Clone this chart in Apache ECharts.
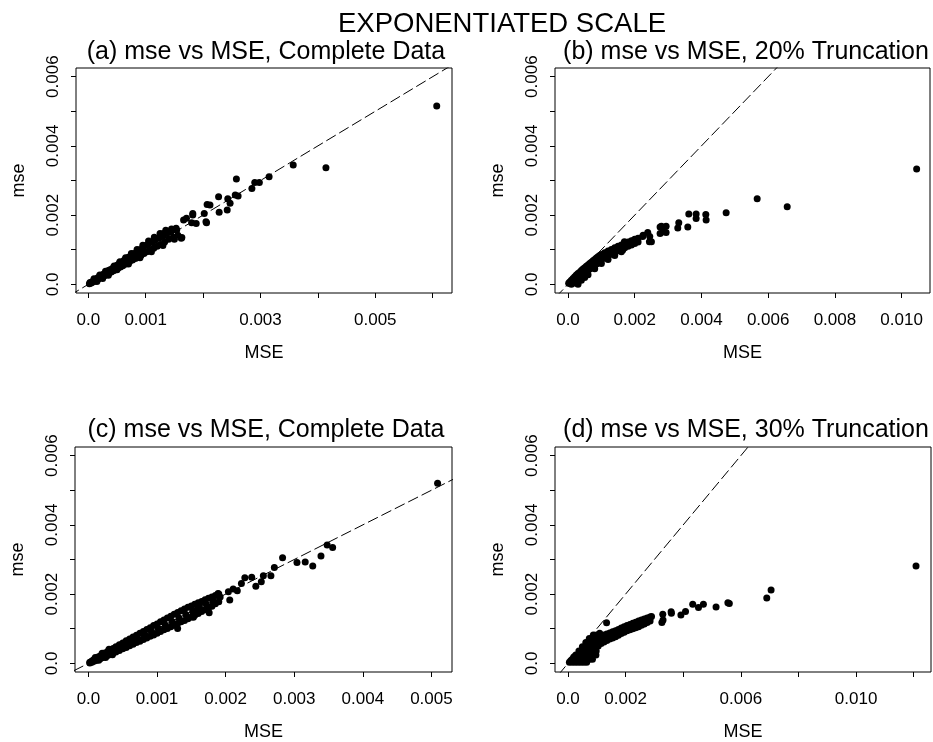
<!DOCTYPE html>
<html>
<head>
<meta charset="utf-8">
<script src="https://cdn.jsdelivr.net/npm/echarts@6/dist/echarts.min.js"></script>
<style>
  html, body { margin: 0; padding: 0; background: #fff; }
  #chart { width: 933px; height: 742px; }
</style>
</head>
<body>
<div id="chart"></div>
<script>
// (a) complete data
const ptsA = [
  [0.02e-3,0.02e-3],[0.03e-3,0.05e-3],[0.05e-3,0.04e-3],[0.06e-3,0.07e-3],[0.08e-3,0.07e-3],[0.09e-3,0.10e-3],
  [0.11e-3,0.10e-3],[0.12e-3,0.14e-3],[0.14e-3,0.13e-3],[0.16e-3,0.18e-3],[0.17e-3,0.15e-3],[0.19e-3,0.21e-3],
  [0.21e-3,0.19e-3],[0.23e-3,0.25e-3],[0.24e-3,0.21e-3],[0.26e-3,0.29e-3],[0.28e-3,0.25e-3],[0.30e-3,0.33e-3],
  [0.32e-3,0.28e-3],[0.34e-3,0.37e-3],[0.36e-3,0.32e-3],[0.38e-3,0.42e-3],[0.40e-3,0.36e-3],[0.42e-3,0.46e-3],
  [0.44e-3,0.39e-3],[0.46e-3,0.50e-3],[0.48e-3,0.43e-3],[0.50e-3,0.55e-3],[0.52e-3,0.47e-3],[0.54e-3,0.60e-3],
  [0.56e-3,0.50e-3],[0.58e-3,0.64e-3],[0.60e-3,0.54e-3],[0.62e-3,0.69e-3],[0.64e-3,0.58e-3],[0.66e-3,0.73e-3],
  [0.68e-3,0.62e-3],[0.70e-3,0.78e-3],[0.72e-3,0.66e-3],[0.75e-3,0.83e-3],[0.77e-3,0.70e-3],[0.80e-3,0.89e-3],
  [0.82e-3,0.75e-3],[0.85e-3,0.94e-3],[0.87e-3,0.79e-3],[0.90e-3,1.00e-3],[0.92e-3,0.84e-3],[0.95e-3,1.06e-3],
  [0.97e-3,0.89e-3],[1.00e-3,1.12e-3],[1.02e-3,0.94e-3],[1.05e-3,1.17e-3],[1.08e-3,0.99e-3],[1.11e-3,1.22e-3],
  [1.14e-3,1.04e-3],[1.17e-3,1.28e-3],[1.20e-3,1.10e-3],[1.23e-3,1.34e-3],[1.26e-3,1.15e-3],[1.30e-3,1.40e-3],
  [1.33e-3,1.22e-3],[1.37e-3,1.47e-3],[1.40e-3,1.30e-3],[1.44e-3,1.52e-3],[1.48e-3,1.36e-3],[1.52e-3,1.58e-3],
  [1.56e-3,1.42e-3],
  [0.35e-3,0.40e-3],[0.45e-3,0.53e-3],[0.55e-3,0.65e-3],[0.65e-3,0.77e-3],[0.75e-3,0.89e-3],[0.85e-3,1.01e-3],
  [0.95e-3,1.13e-3],[1.05e-3,1.25e-3],[1.15e-3,1.36e-3],[1.25e-3,1.47e-3],[1.35e-3,1.56e-3],[1.45e-3,1.60e-3],
  [0.50e-3,0.42e-3],[0.70e-3,0.59e-3],[0.90e-3,0.77e-3],[1.10e-3,0.94e-3],[1.30e-3,1.12e-3],[1.50e-3,1.30e-3],
  [0.10e-3,0.16e-3],[0.20e-3,0.27e-3],[0.30e-3,0.38e-3],[0.15e-3,0.08e-3],[0.25e-3,0.17e-3],[0.35e-3,0.26e-3],
  [1.31e-3,1.47e-3],[1.41e-3,1.52e-3],[1.53e-3,1.62e-3],[1.54e-3,1.57e-3],[1.62e-3,1.33e-3],[1.63e-3,1.35e-3],
  [1.66e-3,1.86e-3],[1.71e-3,1.91e-3],[1.80e-3,1.78e-3],[1.82e-3,2.00e-3],[1.82e-3,2.05e-3],[1.88e-3,1.76e-3],
  [2.02e-3,2.05e-3],[2.05e-3,1.81e-3],[2.06e-3,1.78e-3],[2.07e-3,2.31e-3],[2.12e-3,2.29e-3],[2.27e-3,2.53e-3],
  [2.28e-3,2.08e-3],[2.42e-3,2.15e-3],[2.43e-3,2.47e-3],[2.47e-3,2.34e-3],[2.56e-3,2.58e-3],[2.58e-3,3.04e-3],
  [2.61e-3,2.55e-3],[2.85e-3,2.77e-3],[2.90e-3,2.94e-3],[2.98e-3,2.94e-3],[3.15e-3,3.11e-3],[3.57e-3,3.45e-3],
  [4.14e-3,3.37e-3],[6.07e-3,5.15e-3]
];

// (b) 20% truncation
const ptsB = [
  [0.02e-3,0.03e-3],[0.05e-3,0.03e-3],[0.05e-3,0.07e-3],[0.10e-3,0.05e-3],[0.10e-3,0.12e-3],[0.15e-3,0.08e-3],
  [0.15e-3,0.17e-3],[0.20e-3,0.04e-3],[0.20e-3,0.12e-3],[0.20e-3,0.22e-3],[0.25e-3,0.15e-3],[0.25e-3,0.27e-3],
  [0.30e-3,0.08e-3],[0.30e-3,0.19e-3],[0.30e-3,0.31e-3],[0.35e-3,0.22e-3],[0.35e-3,0.35e-3],[0.40e-3,0.12e-3],
  [0.40e-3,0.26e-3],[0.40e-3,0.40e-3],[0.45e-3,0.30e-3],[0.45e-3,0.44e-3],[0.50e-3,0.33e-3],[0.50e-3,0.48e-3],
  [0.55e-3,0.37e-3],[0.55e-3,0.52e-3],[0.60e-3,0.40e-3],[0.60e-3,0.56e-3],[0.65e-3,0.44e-3],[0.65e-3,0.60e-3],
  [0.70e-3,0.48e-3],[0.70e-3,0.64e-3],[0.75e-3,0.52e-3],[0.75e-3,0.68e-3],[0.80e-3,0.55e-3],[0.80e-3,0.72e-3],
  [0.85e-3,0.59e-3],[0.85e-3,0.76e-3],[0.90e-3,0.62e-3],[0.90e-3,0.80e-3],[0.95e-3,0.66e-3],[0.95e-3,0.83e-3],
  [1.00e-3,0.70e-3],[1.00e-3,0.86e-3],[1.10e-3,0.76e-3],[1.10e-3,0.91e-3],[1.20e-3,0.82e-3],[1.20e-3,0.96e-3],
  [1.30e-3,0.87e-3],[1.30e-3,1.01e-3],[1.40e-3,0.92e-3],[1.40e-3,1.06e-3],[1.50e-3,0.97e-3],[1.50e-3,1.10e-3],
  [1.60e-3,1.02e-3],[1.60e-3,1.14e-3],[1.70e-3,1.06e-3],[1.70e-3,1.18e-3],[1.80e-3,1.10e-3],[1.80e-3,1.22e-3],
  [1.90e-3,1.14e-3],[1.90e-3,1.26e-3],[2.00e-3,1.18e-3],[2.00e-3,1.30e-3],[2.10e-3,1.22e-3],[2.10e-3,1.33e-3],
  [0.10e-3,0.00e-3],[0.30e-3,0.00e-3],[0.50e-3,0.20e-3],[0.60e-3,0.28e-3],[0.80e-3,0.45e-3],[1.00e-3,0.60e-3],
  [1.20e-3,0.72e-3],[1.40e-3,0.83e-3],[1.60e-3,0.94e-3],
  [1.64e-3,0.99e-3],[1.69e-3,1.23e-3],[1.99e-3,1.28e-3],[2.24e-3,1.38e-3],[2.25e-3,1.42e-3],[2.39e-3,1.50e-3],
  [2.44e-3,1.23e-3],[2.45e-3,1.38e-3],[2.50e-3,1.23e-3],[2.76e-3,1.66e-3],[2.76e-3,1.47e-3],[2.80e-3,1.68e-3],
  [2.85e-3,1.52e-3],[2.94e-3,1.68e-3],[2.94e-3,1.50e-3],[3.29e-3,1.63e-3],[3.32e-3,1.78e-3],[3.59e-3,1.66e-3],
  [3.62e-3,2.03e-3],[3.84e-3,2.03e-3],[3.84e-3,1.90e-3],[4.13e-3,2.02e-3],[4.14e-3,1.86e-3],[4.74e-3,2.07e-3],
  [5.67e-3,2.47e-3],[6.57e-3,2.24e-3],[10.45e-3,3.33e-3]
];

// (c) complete data
const ptsC = [
  [0.02e-3,0.01e-3],[0.02e-3,0.03e-3],[0.05e-3,0.03e-3],[0.05e-3,0.07e-3],[0.08e-3,0.06e-3],[0.08e-3,0.11e-3],
  [0.11e-3,0.08e-3],[0.11e-3,0.14e-3],[0.14e-3,0.11e-3],[0.14e-3,0.18e-3],[0.17e-3,0.13e-3],[0.17e-3,0.21e-3],
  [0.20e-3,0.16e-3],[0.20e-3,0.25e-3],[0.24e-3,0.19e-3],[0.24e-3,0.30e-3],[0.28e-3,0.23e-3],[0.28e-3,0.34e-3],
  [0.32e-3,0.26e-3],[0.32e-3,0.39e-3],[0.36e-3,0.30e-3],[0.36e-3,0.43e-3],[0.40e-3,0.33e-3],[0.40e-3,0.48e-3],
  [0.45e-3,0.37e-3],[0.45e-3,0.54e-3],[0.50e-3,0.42e-3],[0.50e-3,0.59e-3],[0.55e-3,0.46e-3],[0.55e-3,0.65e-3],
  [0.60e-3,0.51e-3],[0.60e-3,0.70e-3],[0.65e-3,0.55e-3],[0.65e-3,0.76e-3],[0.70e-3,0.60e-3],[0.70e-3,0.81e-3],
  [0.75e-3,0.64e-3],[0.75e-3,0.87e-3],[0.80e-3,0.69e-3],[0.80e-3,0.92e-3],[0.85e-3,0.73e-3],[0.85e-3,0.98e-3],
  [0.90e-3,0.78e-3],[0.90e-3,1.03e-3],[0.95e-3,0.82e-3],[0.95e-3,1.09e-3],[1.00e-3,0.87e-3],[1.00e-3,1.14e-3],
  [1.05e-3,0.92e-3],[1.05e-3,1.20e-3],[1.10e-3,0.97e-3],[1.10e-3,1.25e-3],[1.15e-3,1.01e-3],[1.15e-3,1.31e-3],
  [1.20e-3,1.06e-3],[1.20e-3,1.36e-3],[1.25e-3,1.10e-3],[1.25e-3,1.42e-3],[1.30e-3,1.15e-3],[1.30e-3,1.47e-3],
  [1.35e-3,1.20e-3],[1.35e-3,1.52e-3],[1.40e-3,1.24e-3],[1.40e-3,1.57e-3],[1.45e-3,1.29e-3],[1.45e-3,1.62e-3],
  [1.50e-3,1.34e-3],[1.50e-3,1.66e-3],[1.55e-3,1.39e-3],[1.55e-3,1.71e-3],[1.60e-3,1.44e-3],[1.60e-3,1.75e-3],
  [1.65e-3,1.50e-3],[1.65e-3,1.79e-3],[1.70e-3,1.55e-3],[1.70e-3,1.84e-3],[1.75e-3,1.60e-3],[1.75e-3,1.88e-3],
  [1.80e-3,1.65e-3],[1.80e-3,1.92e-3],[1.85e-3,1.72e-3],[1.85e-3,1.96e-3],[1.90e-3,1.78e-3],[1.90e-3,2.00e-3],
  [0.52e-3,0.51e-3],[0.62e-3,0.61e-3],[0.72e-3,0.71e-3],[0.82e-3,0.81e-3],[0.92e-3,0.91e-3],[1.02e-3,1.01e-3],
  [1.12e-3,1.11e-3],[1.22e-3,1.21e-3],[1.32e-3,1.31e-3],[1.42e-3,1.41e-3],[1.52e-3,1.50e-3],[1.62e-3,1.60e-3],
  [1.72e-3,1.70e-3],[1.82e-3,1.79e-3],
  [0.10e-3,0.17e-3],[0.20e-3,0.29e-3],[0.30e-3,0.41e-3],[0.15e-3,0.09e-3],[0.25e-3,0.17e-3],[0.35e-3,0.25e-3],
  [1.30e-3,1.01e-3],[1.53e-3,1.33e-3],[1.58e-3,1.54e-3],[1.62e-3,1.73e-3],[1.76e-3,1.46e-3],[1.89e-3,2.02e-3],
  [1.92e-3,1.92e-3],[2.04e-3,2.07e-3],[2.06e-3,1.83e-3],[2.11e-3,2.15e-3],[2.17e-3,2.10e-3],[2.23e-3,2.31e-3],
  [2.28e-3,2.47e-3],[2.38e-3,2.49e-3],[2.44e-3,2.23e-3],[2.52e-3,2.36e-3],[2.55e-3,2.53e-3],[2.66e-3,2.53e-3],
  [2.71e-3,2.77e-3],[2.83e-3,3.05e-3],[3.04e-3,2.91e-3],[3.16e-3,2.93e-3],[3.27e-3,2.81e-3],[3.39e-3,3.10e-3],
  [3.48e-3,3.42e-3],[3.56e-3,3.35e-3],[5.09e-3,5.20e-3]
];

// (d) 30% truncation
const ptsD = [
  [0.05e-3,0.03e-3],[0.15e-3,0.03e-3],[0.25e-3,0.03e-3],[0.35e-3,0.03e-3],[0.45e-3,0.03e-3],[0.55e-3,0.03e-3],
  [0.65e-3,0.03e-3],[0.10e-3,0.08e-3],[0.15e-3,0.12e-3],[0.27e-3,0.12e-3],[0.39e-3,0.12e-3],[0.51e-3,0.12e-3],
  [0.63e-3,0.12e-3],[0.75e-3,0.12e-3],[0.85e-3,0.12e-3],[0.20e-3,0.18e-3],[0.27e-3,0.24e-3],[0.39e-3,0.24e-3],
  [0.51e-3,0.24e-3],[0.63e-3,0.24e-3],[0.75e-3,0.24e-3],[0.87e-3,0.24e-3],[0.97e-3,0.24e-3],[0.38e-3,0.36e-3],
  [0.50e-3,0.36e-3],[0.62e-3,0.36e-3],[0.74e-3,0.36e-3],[0.86e-3,0.36e-3],[0.98e-3,0.36e-3],[0.50e-3,0.48e-3],
  [0.62e-3,0.48e-3],[0.74e-3,0.48e-3],[0.86e-3,0.48e-3],[0.98e-3,0.48e-3],[0.62e-3,0.60e-3],[0.74e-3,0.60e-3],
  [0.86e-3,0.60e-3],[0.96e-3,0.60e-3],[0.74e-3,0.72e-3],[0.86e-3,0.72e-3],[0.98e-3,0.72e-3],[0.88e-3,0.82e-3],
  [1.00e-3,0.82e-3],
  [1.05e-3,0.50e-3],[1.05e-3,0.78e-3],[1.15e-3,0.57e-3],[1.15e-3,0.80e-3],[1.25e-3,0.62e-3],[1.25e-3,0.82e-3],
  [1.35e-3,0.66e-3],[1.35e-3,0.85e-3],[1.45e-3,0.70e-3],[1.45e-3,0.88e-3],[1.55e-3,0.73e-3],[1.55e-3,0.91e-3],
  [1.65e-3,0.77e-3],[1.65e-3,0.94e-3],[1.75e-3,0.81e-3],[1.75e-3,0.98e-3],[1.85e-3,0.86e-3],[1.85e-3,1.02e-3],
  [1.95e-3,0.90e-3],[1.95e-3,1.06e-3],[2.05e-3,0.94e-3],[2.05e-3,1.09e-3],[2.15e-3,0.97e-3],[2.15e-3,1.12e-3],
  [2.25e-3,1.00e-3],[2.25e-3,1.16e-3],[2.35e-3,1.03e-3],[2.35e-3,1.19e-3],[2.45e-3,1.06e-3],[2.45e-3,1.22e-3],
  [2.55e-3,1.10e-3],[2.55e-3,1.25e-3],[2.65e-3,1.14e-3],[2.65e-3,1.28e-3],[2.75e-3,1.18e-3],[2.75e-3,1.31e-3],
  [2.85e-3,1.22e-3],[2.85e-3,1.34e-3],
  [1.10e-3,0.66e-3],[1.30e-3,0.74e-3],[1.50e-3,0.81e-3],[1.70e-3,0.87e-3],[1.90e-3,0.96e-3],[2.10e-3,1.03e-3],
  [2.30e-3,1.10e-3],[2.50e-3,1.16e-3],[2.70e-3,1.24e-3],
  [1.10e-3,0.87e-3],[1.34e-3,1.17e-3],[2.90e-3,1.35e-3],[3.26e-3,1.18e-3],[3.29e-3,1.42e-3],[3.30e-3,1.25e-3],
  [3.58e-3,1.49e-3],[3.59e-3,1.45e-3],[3.92e-3,1.40e-3],[4.08e-3,1.50e-3],[4.33e-3,1.71e-3],[4.53e-3,1.61e-3],
  [4.70e-3,1.71e-3],[5.14e-3,1.63e-3],[5.55e-3,1.75e-3],[5.60e-3,1.73e-3],[6.90e-3,1.89e-3],[7.05e-3,2.12e-3],
  [12.08e-3,2.81e-3]
];

// y = x reference line
const refLine = [[-0.001, -0.001], [0.013, 0.013]];

const yTicks = [0, 0.001, 0.002, 0.003, 0.004, 0.005, 0.006];
const yLabels = [0, 0.002, 0.004, 0.006];

const xTicksA = [0, 0.001, 0.002, 0.003, 0.004, 0.005, 0.006];
const xLabelsA = [0, 0.001, 0.003, 0.005];
const xTicksB = [0, 0.002, 0.004, 0.006, 0.008, 0.010];
const xLabelsB = [0, 0.002, 0.004, 0.006, 0.008, 0.010];
const xTicksC = [0, 0.001, 0.002, 0.003, 0.004, 0.005];
const xLabelsC = [0, 0.001, 0.002, 0.003, 0.004, 0.005];
const xTicksD = [0, 0.002, 0.004, 0.006, 0.008, 0.010, 0.012];
const xLabelsD = [0, 0.002, 0.006, 0.010];

const titles = [
  '(a) mse vs MSE, Complete Data',
  '(b) mse vs MSE, 20% Truncation',
  '(c) mse vs MSE, Complete Data',
  '(d) mse vs MSE, 30% Truncation'
];

const FONT = "'Liberation Sans', Arial, sans-serif";

const panels = [
  { pts: ptsA, xt: xTicksA, xl: xLabelsA, xmin: -0.000214, xmax: 0.006336, box: [76, 68, 376, 225], tx: 266, ty: 52 },
  { pts: ptsB, xt: xTicksB, xl: xLabelsB, xmin: -0.00039, xmax: 0.01085, box: [555, 68, 375, 225], tx: 746, ty: 52 },
  { pts: ptsC, xt: xTicksC, xl: xLabelsC, xmin: -0.000196, xmax: 0.0053, box: [75, 447, 377, 225], tx: 266, ty: 430 },
  { pts: ptsD, xt: xTicksD, xl: xLabelsD, xmin: -0.00045, xmax: 0.0126, box: [555, 447, 376, 225], tx: 746, ty: 430 }
];

function fmt(v) {
  return v === 0 ? '0.0' : v.toFixed(3);
}

const grid = [], xAxis = [], yAxis = [], series = [];
const graphic = [{
  type: 'text', x: 502, y: 24,
  style: { text: 'EXPONENTIATED SCALE', font: `27.5px ${FONT}`, fill: '#000', textAlign: 'center', textVerticalAlign: 'middle' }
}];

panels.forEach((p, i) => {
  grid.push({
    left: p.box[0], top: p.box[1], width: p.box[2], height: p.box[3],
    show: true, borderColor: '#000', borderWidth: 1, backgroundColor: 'transparent'
  });
  xAxis.push({
    type: 'value', gridIndex: i, min: p.xmin, max: p.xmax,
    name: 'MSE', nameLocation: 'middle', nameGap: 51,
    nameTextStyle: { fontFamily: FONT, fontSize: 18, color: '#000' },
    axisLine: { show: false, onZero: false },
    splitLine: { show: false },
    axisTick: { show: true, inside: false, length: 5, customValues: p.xt, lineStyle: { color: '#000' } },
    axisLabel: { customValues: p.xl, formatter: fmt, margin: 19, fontFamily: FONT, fontSize: 17, color: '#000' }
  });
  yAxis.push({
    type: 'value', gridIndex: i, min: -0.00025, max: 0.00625,
    name: 'mse', nameLocation: 'middle', nameGap: 48,
    nameTextStyle: { fontFamily: FONT, fontSize: 18, color: '#000' },
    axisLine: { show: false, onZero: false },
    splitLine: { show: false },
    axisTick: { show: true, inside: false, length: 5, customValues: yTicks, lineStyle: { color: '#000' } },
    axisLabel: { customValues: yLabels, formatter: fmt, rotate: 90, margin: 14, fontFamily: FONT, fontSize: 17, color: '#000' }
  });
  series.push({
    type: 'scatter', xAxisIndex: i, yAxisIndex: i,
    data: p.pts, symbol: 'circle', symbolSize: 7,
    itemStyle: { color: '#000', opacity: 1 }, silent: true
  });
  series.push({
    type: 'line', xAxisIndex: i, yAxisIndex: i,
    data: refLine, showSymbol: false, clip: true, silent: true,
    lineStyle: { color: '#000', width: 1, type: [11, 4] }
  });
  graphic.push({
    type: 'text', x: p.tx, y: p.ty,
    style: { text: titles[i], font: `25px ${FONT}`, fill: '#000', textAlign: 'center', textVerticalAlign: 'middle' }
  });
});

const chart = echarts.init(document.getElementById('chart'), null, { renderer: 'canvas' });
chart.setOption({
  animation: false,
  backgroundColor: '#fff',
  grid, xAxis, yAxis, series, graphic
});
</script>
</body>
</html>
